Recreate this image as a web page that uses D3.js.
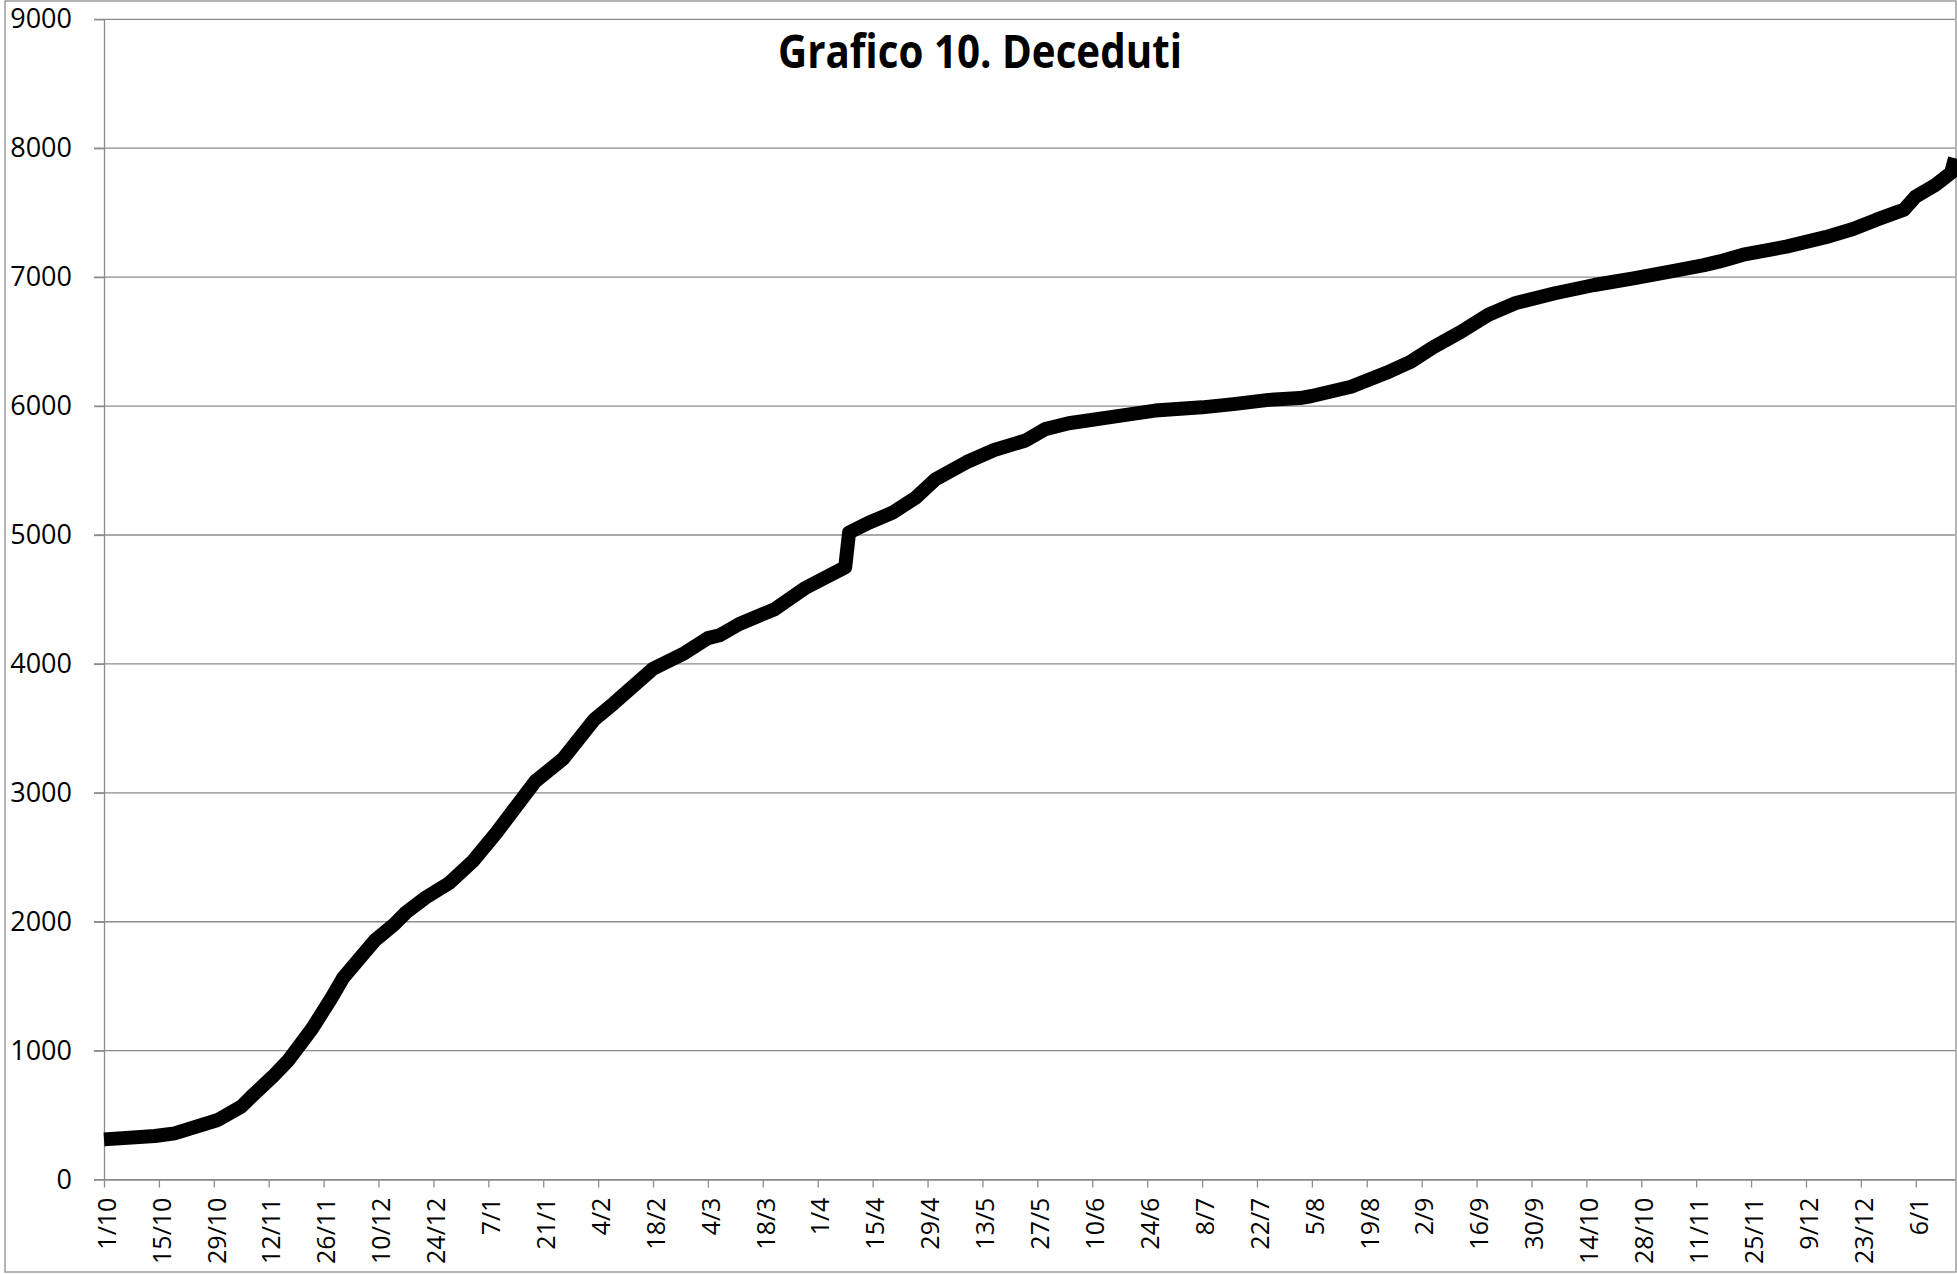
<!DOCTYPE html>
<html>
<head>
<meta charset="utf-8">
<script src="https://cdn.jsdelivr.net/npm/d3@7"></script>
<style>
  body { margin: 0; background: #fff; }
</style>
</head>
<body>
<svg id="chart" width="1957" height="1274"></svg>
<script>

// values (cumulative deaths)
const dates = [
  "2020-10-01", "2020-10-14", "2020-10-19", "2020-10-30", "2020-11-05", "2020-11-08",
  "2020-11-13", "2020-11-17", "2020-11-23", "2020-11-28", "2020-12-01", "2020-12-09",
  "2020-12-14", "2020-12-17", "2020-12-22", "2020-12-28", "2021-01-03", "2021-01-09",
  "2021-01-13", "2021-01-19", "2021-01-26", "2021-02-03", "2021-02-08", "2021-02-18",
  "2021-02-26", "2021-03-04", "2021-03-07", "2021-03-12", "2021-03-21", "2021-03-29",
  "2021-04-08", "2021-04-09", "2021-04-14", "2021-04-20", "2021-04-26", "2021-05-01",
  "2021-05-09", "2021-05-16", "2021-05-24", "2021-05-29", "2021-06-04", "2021-06-16",
  "2021-06-26", "2021-07-08", "2021-07-16", "2021-07-25", "2021-08-02", "2021-08-05",
  "2021-08-15", "2021-08-24", "2021-08-30", "2021-09-05", "2021-09-12", "2021-09-19",
  "2021-09-26", "2021-10-06", "2021-10-16", "2021-10-26", "2021-11-06", "2021-11-13",
  "2021-11-17", "2021-11-23", "2021-12-04", "2021-12-14", "2021-12-21", "2021-12-27",
  "2022-01-03", "2022-01-06", "2022-01-11", "2022-01-15", "2022-01-16"
];

const deceduti = [
  312, 338, 359, 462, 566, 656,
  798, 925, 1168, 1408, 1565, 1853,
  1980, 2072, 2187, 2300, 2468, 2688,
  2850, 3090, 3262, 3568, 3694, 3962,
  4083, 4200, 4222, 4310, 4424, 4592,
  4750, 5020, 5095, 5172, 5290, 5432,
  5566, 5659, 5733, 5821, 5867, 5920,
  5965, 5990, 6015, 6048, 6062, 6078,
  6150, 6258, 6340, 6457, 6575, 6708,
  6799, 6875, 6939, 6991, 7052, 7093,
  7122, 7174, 7237, 7310, 7373, 7446,
  7524, 7626, 7715, 7810, 7922
];

const yTicks = [0, 1000, 2000, 3000, 4000, 5000, 6000, 7000, 8000, 9000];
const xFirstTick = "2020-10-01";
const xLastTick = "2022-01-06";
const xTickStep = 14; // days
const xEnd = "2022-01-16";
const title = "Grafico 10. Deceduti";

const parse = d3.timeParse("%Y-%m-%d");
const gray = "#8c8c8c";

var svg = d3.select("#chart");

var plotLeft = 104, plotRight = 1955, plotTop = 19.3, plotBottom = 1179.6;

var x = d3.scaleTime()
    .domain([parse(xFirstTick), parse(xEnd)])
    .range([plotLeft, plotRight]);

var y = d3.scaleLinear()
    .domain([0, 9000])
    .range([plotBottom, plotTop]);

var tickDates = [];
for (var t = parse(xFirstTick); t <= parse(xLastTick); t = d3.timeDay.offset(t, xTickStep)) {
  tickDates.push(t);
}

var points = dates.map((d, i) => ({ date: parse(d), value: deceduti[i] }));

// chart border
svg.append("rect")
    .attr("x", 5)
    .attr("y", 1)
    .attr("width", 1951)
    .attr("height", 1271)
    .attr("fill", "#fff")
    .attr("stroke", gray)
    .attr("stroke-width", 1.3);

// gridlines
svg.append("g")
    .attr("class", "grid")
  .selectAll("line")
  .data(yTicks)
  .enter().append("line")
    .attr("x1", plotLeft - 10)
    .attr("x2", plotRight)
    .attr("y1", d => y(d))
    .attr("y2", d => y(d))
    .attr("stroke", gray)
    .attr("stroke-width", 1.3);

var yAxis = svg.append("g")
    .attr("transform", "translate(" + plotLeft + ",0)")
    .call(d3.axisLeft(y)
      .tickValues(yTicks)
      .tickFormat(d3.format("d"))
      .tickSize(10)
      .tickSizeOuter(0)
      .tickPadding(22));

var xAxis = svg.append("g")
    .attr("transform", "translate(0," + plotBottom + ")")
    .call(d3.axisBottom(x)
      .tickValues(tickDates)
      .tickFormat(d3.timeFormat("%-d/%-m"))
      .tickSize(8)
      .tickSizeOuter(0));

[yAxis, xAxis].forEach(a => {
  a.selectAll("path.domain").attr("stroke", gray).attr("stroke-width", 1.3);
  a.selectAll(".tick line").attr("stroke", gray).attr("stroke-width", 1.3);
  a.selectAll("text")
      .attr("fill", "#000")
      .style("font-family", "'Open Sans', sans-serif");
});

yAxis.selectAll("text").style("font-size", "27px");

xAxis.selectAll("text")
    .style("font-size", "25px")
    .attr("transform", "rotate(-90)")
    .attr("text-anchor", "end")
    .attr("x", -18)
    .attr("y", 0)
    .attr("dy", "0.45em");

// series
var line = d3.line()
    .x(d => x(d.date))
    .y(d => y(d.value));

svg.append("path")
    .datum(points)
    .attr("d", line)
    .attr("fill", "none")
    .attr("stroke", "#000")
    .attr("stroke-width", 14)
    .attr("stroke-linejoin", "round");

svg.append("text")
    .attr("x", 980)
    .attr("y", 68)
    .attr("text-anchor", "middle")
    .attr("textLength", 404)
    .attr("lengthAdjust", "spacingAndGlyphs")
    .style("font-family", "'Open Sans', sans-serif")
    .style("font-weight", "700")
    .style("font-size", "47px")
    .text(title);

</script>
</body>
</html>
